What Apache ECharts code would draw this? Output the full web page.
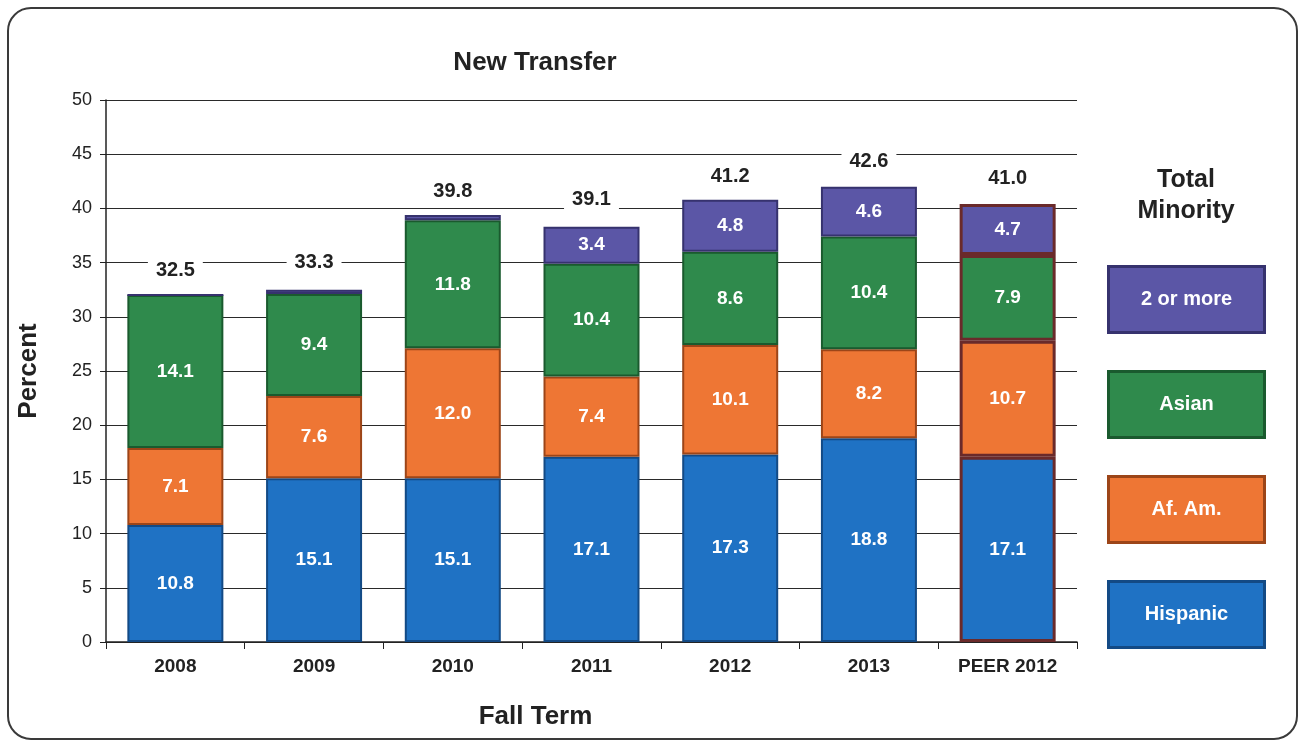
<!DOCTYPE html>
<html>
<head>
<meta charset="utf-8">
<script src="https://cdn.jsdelivr.net/npm/echarts@6/dist/echarts.min.js"></script>
<style>
  html, body { margin: 0; padding: 0; background: #fff; }
  #frame {
    position: absolute; left: 7px; top: 7px; width: 1287px; height: 729px;
    border: 2px solid #3a3a3a; border-radius: 24px;
  }
  #chart { position: absolute; left: 0; top: 0; width: 1304px; height: 742px; }
</style>
</head>
<body>
<div id="frame"></div>
<div id="chart"></div>
<script>
// data
const years = ['2008', '2009', '2010', '2011', '2012', '2013', 'PEER 2012'];
const hispanic = [10.8, 15.1, 15.1, 17.1, 17.3, 18.8, 17.1];
const afAm = [7.1, 7.6, 12.0, 7.4, 10.1, 8.2, 10.7];
const asian = [14.1, 9.4, 11.8, 10.4, 8.6, 10.4, 7.9];
const twoOrMore = [0, 0.4, 0.5, 3.4, 4.8, 4.6, 4.7];
const totals = [32.5, 33.3, 39.8, 39.1, 41.2, 42.6, 41.0];

const groups = [
  { name: 'Hispanic', values: hispanic, color: '#1f72c4', edge: '#134a85' },
  { name: 'Af. Am.', values: afAm, color: '#ee7634', edge: '#9c4518' },
  { name: 'Asian', values: asian, color: '#2f8a4c', edge: '#1a5a2e' },
  { name: '2 or more', values: twoOrMore, color: '#5b56a6', edge: '#36326e' }
];

const font = '"Liberation Sans", Arial, sans-serif';
const peerIndex = years.indexOf('PEER 2012');

function stackSeries(g) {
  return {
    name: g.name,
    type: 'bar',
    stack: 'minority',
    barWidth: 96,
    itemStyle: { color: g.color, borderColor: g.edge, borderWidth: 2 },
    label: {
      show: true,
      position: 'inside',
      color: '#fff',
      fontFamily: font,
      fontWeight: 'bold',
      fontSize: 19,
      formatter: p => (p.value >= 1 ? p.value.toFixed(1) : '')
    },
    data: g.values.map((v, i) => i === peerIndex
      ? { value: v, itemStyle: { borderColor: '#6a2a2a', borderWidth: 3 } }
      : v)
  };
}

// legend boxes on the right, top to bottom
const legendTops = [265, 370, 475, 580];
const legendItems = groups.slice().reverse().map((g, i) => ({
  type: 'rect',
  left: 1107,
  top: legendTops[i],
  shape: { width: 156, height: 66 },
  style: { fill: g.color, stroke: g.edge, lineWidth: 3 },
  textContent: {
    style: { text: g.name, fill: '#fff', font: 'bold 20px ' + font }
  },
  textConfig: { position: 'inside' }
}));

const chart = echarts.init(document.getElementById('chart'));

chart.setOption({
  animation: false,
  title: {
    text: 'New Transfer',
    left: 530,
    top: 45,
    textAlign: 'center',
    textStyle: { fontFamily: font, fontSize: 26, fontWeight: 'bold', color: '#222' }
  },
  grid: { left: 106, right: 227, top: 100, bottom: 100 },
  xAxis: {
    type: 'category',
    data: years,
    name: 'Fall Term',
    nameLocation: 'middle',
    nameGap: 62,
    nameTextStyle: { fontFamily: font, fontSize: 26, fontWeight: 'bold', color: '#222', padding: [0, 112, 0, 0] },
    axisLine: { lineStyle: { color: '#222', width: 1.5 } },
    axisTick: { show: true, length: 7, lineStyle: { color: '#222' } },
    axisLabel: { fontFamily: font, fontSize: 19, fontWeight: 'bold', color: '#222', margin: 15 }
  },
  yAxis: {
    type: 'value',
    min: 0,
    max: 50,
    interval: 5,
    name: 'Percent',
    nameLocation: 'middle',
    nameGap: 64,
    nameTextStyle: { fontFamily: font, fontSize: 26, fontWeight: 'bold', color: '#222' },
    axisLine: { show: true, lineStyle: { color: '#222', width: 1.5 } },
    axisTick: { show: true, length: 6, lineStyle: { color: '#222' } },
    axisLabel: { fontFamily: font, fontSize: 18, color: '#222', margin: 14 },
    splitLine: { lineStyle: { color: '#2a2a2a', width: 1.2 } }
  },
  series: groups.map(stackSeries).concat([{
    name: 'Total',
    type: 'bar',
    barWidth: 96,
    barGap: '-100%',
    silent: true,
    z: 1,
    itemStyle: { color: 'rgba(0,0,0,0)' },
    label: {
      show: true,
      position: 'top',
      distance: 7,
      color: '#222',
      fontFamily: font,
      fontWeight: 'bold',
      fontSize: 20,
      backgroundColor: '#fff',
      padding: [2, 8],
      formatter: p => p.value.toFixed(1)
    },
    data: totals
  }]),
  graphic: [
    {
      type: 'text',
      x: 1186,
      y: 165,
      style: {
        text: 'Total\nMinority',
        font: 'bold 25px ' + font,
        fill: '#222',
        align: 'center',
        lineHeight: 31
      }
    }
  ].concat(legendItems)
});
</script>
</body>
</html>
